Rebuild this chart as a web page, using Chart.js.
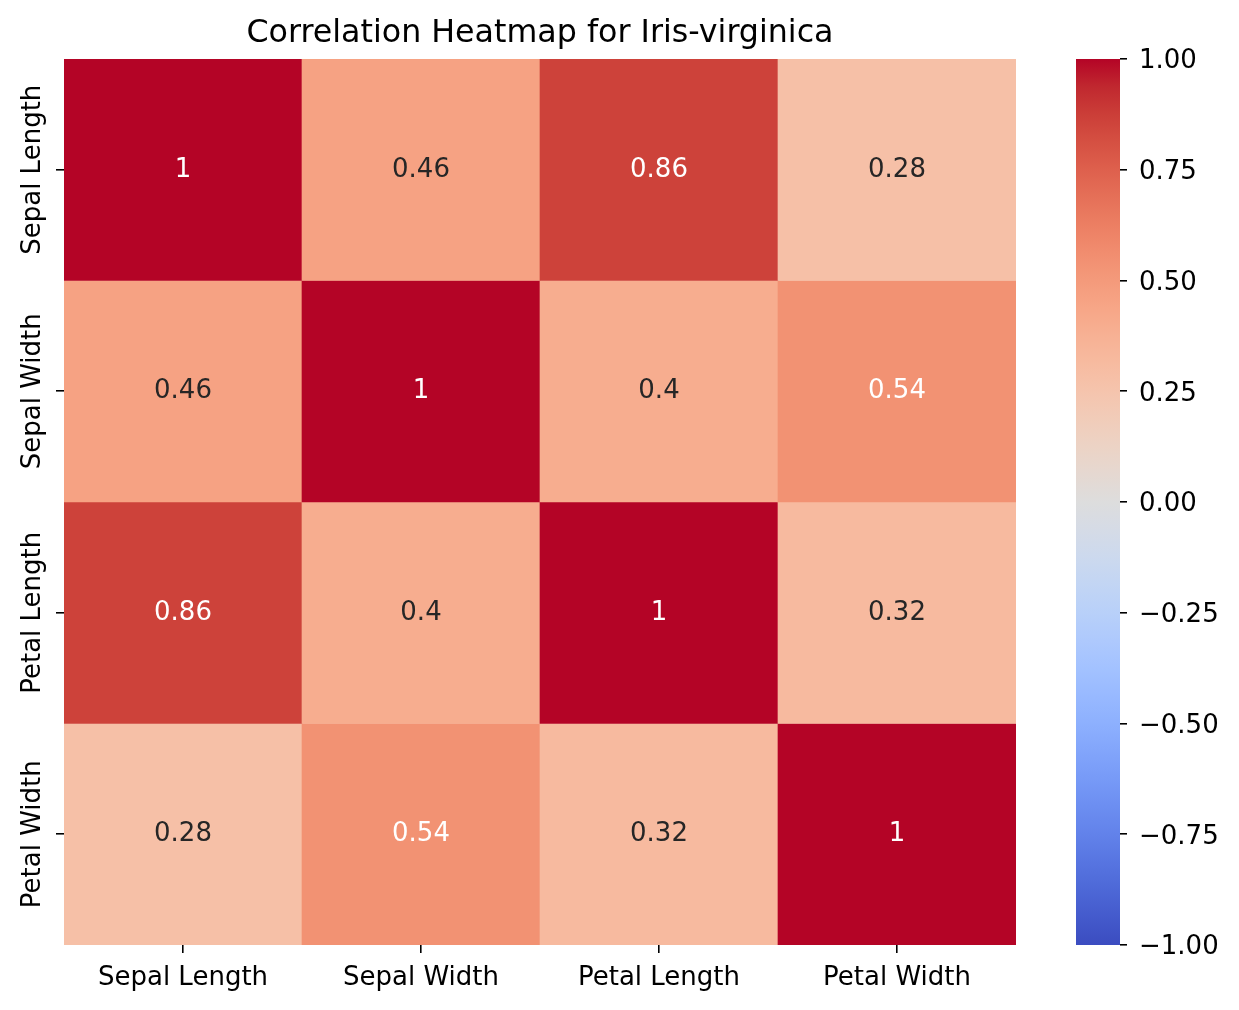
<!DOCTYPE html>
<html><head><meta charset="utf-8">
<script src="https://cdn.jsdelivr.net/npm/chart.js@4.4.1/dist/chart.umd.min.js"></script>
<style>
html,body{margin:0;padding:0;background:#fff;overflow:hidden;width:1239px;height:1010px}
.wrap{position:absolute;top:0}
</style></head><body>
<div class="wrap" style="left:0;width:1239px;height:1010px"><canvas id="main"></canvas></div>
<div class="wrap" style="left:1040px;width:199px;height:1010px"><canvas id="cbar"></canvas></div>
<script>
// ---- data ----
const categories = ['Sepal Length', 'Sepal Width', 'Petal Length', 'Petal Width'];
const sepalLengthRow = [1, 0.46, 0.86, 0.28];
const sepalWidthRow  = [0.46, 1, 0.4, 0.54];
const petalLengthRow = [0.86, 0.4, 1, 0.32];
const petalWidthRow  = [0.28, 0.54, 0.32, 1];
const rows = [sepalLengthRow, sepalWidthRow, petalLengthRow, petalWidthRow];
const colorbarTicks = [-1, -0.75, -0.5, -0.25, 0, 0.25, 0.5, 0.75, 1];
const chartTitle = 'Correlation Heatmap for Iris-virginica';

// ---- coolwarm colormap (Moreland) ----
const coolwarm = [
[0.0,59,76,192],[0.03125,68,90,204],[0.0625,77,104,215],[0.09375,87,117,225],
[0.125,98,130,234],[0.15625,108,142,241],[0.1875,119,154,247],[0.21875,130,165,251],
[0.25,141,176,254],[0.28125,152,185,255],[0.3125,163,194,255],[0.34375,174,201,253],
[0.375,184,208,249],[0.40625,194,213,244],[0.4375,204,217,238],[0.46875,213,219,230],
[0.5,221,221,221],[0.53125,229,216,209],[0.5625,236,211,197],[0.59375,241,204,185],
[0.625,245,196,173],[0.65625,247,187,160],[0.6875,247,177,148],[0.71875,247,166,135],
[0.75,244,154,123],[0.78125,241,141,111],[0.8125,236,127,99],[0.84375,229,112,88],
[0.875,222,96,77],[0.90625,213,80,66],[0.9375,203,62,56],[0.96875,192,40,47],[1.0,180,4,38]];
function cmap(v) {
  const t = Math.max(0, Math.min(1, (v + 1) / 2));
  for (let i = 0; i < coolwarm.length - 1; i++) {
    const a = coolwarm[i], b = coolwarm[i + 1];
    if (t <= b[0]) {
      const f = (t - a[0]) / (b[0] - a[0]);
      const c = [1, 2, 3].map(k => Math.round(a[k] + (b[k] - a[k]) * f));
      return `rgb(${c[0]},${c[1]},${c[2]})`;
    }
  }
  return 'rgb(180,4,38)';
}
const FONT = '"DejaVu Sans", "Liberation Sans", sans-serif';
const fmt = v => String(Number(v.toPrecision(2)));
const textColor = v => (v > 0.5 ? '#ffffff' : '#262626');

const heatLabels = {
  id: 'heatLabels',
  afterDatasetsDraw(chart) {
    const ctx = chart.ctx;
    const area = chart.chartArea;
    ctx.save();
    // title, centred on the plot area
    ctx.font = '31.7px ' + FONT;
    ctx.fillStyle = '#000';
    ctx.textAlign = 'center';
    ctx.textBaseline = 'alphabetic';
    ctx.fillText(chartTitle, (area.left + area.right) / 2, 41.5);
    // cell annotations
    ctx.font = '26px ' + FONT;
    ctx.textBaseline = 'middle';
    rows.forEach((row, r) => {
      const meta = chart.getDatasetMeta(r);
      meta.data.forEach((bar, j) => {
        const p = bar.getCenterPoint();
        ctx.fillStyle = textColor(row[j]);
        ctx.fillText(fmt(row[j]), p.x, p.y);
      });
    });
    // rotated y tick labels
    const ys = chart.scales.y;
    ctx.fillStyle = '#000';
    ctx.textBaseline = 'alphabetic';
    categories.forEach((c, i) => {
      const y = ys.getPixelForValue(i + 0.5);
      ctx.save();
      ctx.translate(ys.left + 40, y);
      ctx.rotate(-Math.PI / 2);
      ctx.fillText(c, 0, 0);
      ctx.restore();
    });
    ctx.restore();
  }
};

new Chart(document.getElementById('main'), {
  type: 'bar',
  data: {
    labels: categories,
    datasets: rows.map((row, r) => ({
      label: categories[r],
      data: row.map(() => [r, r + 1]),
      backgroundColor: row.map(cmap),
      borderWidth: 0,
      barPercentage: 1,
      categoryPercentage: 1,
      grouped: false
    }))
  },
  options: {
    responsive: true,
    maintainAspectRatio: false,
    animation: false,
    events: [],
    layout: { padding: { left: 0, right: 223, top: 59, bottom: 0 } },
    plugins: {
      legend: { display: false },
      tooltip: { enabled: false },
      title: { display: false }
    },
    scales: {
      x: {
        type: 'category', offset: true,
        grid: { display: true, drawOnChartArea: false, drawTicks: true, tickLength: 8,
                color: '#000', lineWidth: 1.6, offset: false },
        border: { display: false },
        ticks: { color: '#000', font: { family: FONT, size: 26 }, padding: 10, maxRotation: 0, minRotation: 0 },
        afterFit(s) { s.height = 65; }
      },
      y: {
        type: 'linear', min: 0, max: 4, reverse: true,
        afterBuildTicks(s) { s.ticks = [0.5, 1.5, 2.5, 3.5].map(v => ({ value: v })); },
        grid: { display: true, drawOnChartArea: false, drawTicks: true, tickLength: 8,
                color: '#000', lineWidth: 1.6 },
        border: { display: false },
        ticks: { color: 'rgba(0,0,0,0)', font: { family: FONT, size: 26 } },
        afterFit(s) { s.width = 64; }
      }
    }
  },
  plugins: [heatLabels]
});

new Chart(document.getElementById('cbar'), {
  type: 'bar',
  data: {
    labels: [''],
    datasets: [{
      data: [[colorbarTicks[0], colorbarTicks[colorbarTicks.length - 1]]],
      backgroundColor(ctx) {
        const a = ctx.chart.chartArea;
        if (!a) return '#ddd';
        const g = ctx.chart.ctx.createLinearGradient(0, a.bottom, 0, a.top);
        coolwarm.forEach(s => g.addColorStop(s[0], `rgb(${s[1]},${s[2]},${s[3]})`));
        return g;
      },
      borderWidth: 0,
      barPercentage: 1,
      categoryPercentage: 1,
      inflateAmount: 0
    }]
  },
  options: {
    responsive: true,
    maintainAspectRatio: false,
    animation: false,
    events: [],
    layout: { padding: { left: 36, right: 0, top: 59, bottom: 65 } },
    plugins: { legend: { display: false }, tooltip: { enabled: false }, title: { display: false } },
    scales: {
      x: { display: false },
      y: {
        position: 'right', min: -1, max: 1,
        afterBuildTicks(s) { s.ticks = colorbarTicks.map(v => ({ value: v })); },
        ticks: {
          color: '#000', font: { family: FONT, size: 26 }, padding: 12, labelOffset: 2.5,
          callback: v => (v < 0 ? '\u2212' : '') + Math.abs(v).toFixed(2)
        },
        grid: { display: true, drawOnChartArea: false, drawTicks: true, tickLength: 7,
                color: '#000', lineWidth: 1.6 },
        border: { display: false },
        afterFit(s) { s.width = 119; }
      }
    }
  }
});
</script>
</body></html>
